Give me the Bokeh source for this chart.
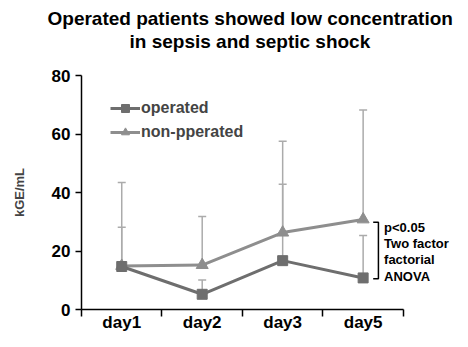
from bokeh.plotting import figure
from bokeh.layouts import column
from bokeh.models import (ColumnDataSource, Whisker, TeeHead, FixedTicker, Legend, LegendItem, Title, Range1d)
from bokeh.core.properties import value
from bokeh.embed import file_html
from bokeh.resources import INLINE

days = ["day1", "day2", "day3", "day5"]
xpos = [1, 2, 3, 4]
operated = [14.7, 5.2, 16.7, 10.8]
operated_err = [28.1, 10.1, 42.8, 25.3]
nonoperated = [14.9, 15.2, 26.3, 30.8]
nonoperated_err = [43.4, 31.8, 57.5, 68.2]
yticks = [0, 20, 40, 60, 80]
title_lines = ["Operated patients showed low concentration", "in sepsis and septic shock"]
title_offsets = [-34, 48]
stat_lines = ["p<0.05", "Two factor", "factorial", "ANOVA"]

FONT = "Liberation Sans"
C_OP = "#6e6e6e"
C_NON = "#8e8e8e"
C_ERR = "#ababab"
LEFT = 81

# ---- title strip ----
t = figure(width=460, height=55, output_backend="svg", toolbar_location=None,
           x_axis_type=None, y_axis_type=None,
           min_border_left=LEFT, min_border_right=0, min_border_top=51, min_border_bottom=0,
           x_range=Range1d(0, 1), y_range=Range1d(0, 1))
t.outline_line_color = None
t.grid.visible = False
for line, off in reversed(list(zip(title_lines, title_offsets))):
    t.add_layout(Title(text=line, align="left", offset=off, standoff=0,
                       text_font=FONT, text_font_size="19px", text_font_style="bold",
                       text_color="black"), "above")

# ---- main chart ----
p = figure(width=460, height=284, output_backend="svg", toolbar_location=None,
           x_range=Range1d(0.5, 5.21), y_range=Range1d(0, 80),
           min_border_left=LEFT, min_border_right=0, min_border_top=20, min_border_bottom=30)
p.outline_line_color = None
p.grid.visible = False
p.background_fill_color = "white"

src_op = ColumnDataSource(dict(x=xpos, y=operated, up=operated_err))
src_non = ColumnDataSource(dict(x=xpos, y=nonoperated, up=nonoperated_err))

for src in (src_non, src_op):
    w = Whisker(source=src, base="x", lower="y", upper="up", dimension="height",
                line_color=C_ERR, line_width=1.5, lower_head=None,
                upper_head=TeeHead(size=8, line_color=C_ERR, line_width=1.5), level="underlay")
    p.add_layout(w)

l_non = p.line("x", "y", source=src_non, line_color=C_NON, line_width=3)
m_non = p.scatter("x", "y", source=src_non, marker="triangle", size=12, fill_color=C_NON, line_color=C_NON)
l_op = p.line("x", "y", source=src_op, line_color=C_OP, line_width=3)
m_op = p.scatter("x", "y", source=src_op, marker="square", size=10, fill_color=C_OP, line_color=C_OP)

# bracket for significance
bx = xpos[-1] + 0.19
bxl = xpos[-1] + 0.125
top = nonoperated[-1] - 1.0
bot = operated[-1] - 0.3
p.line([bxl, bx, bx, bxl], [top, top, bot, bot], line_color="black", line_width=1.5)

ys = [top - 1.7 - i * 5.55 for i in range(len(stat_lines))]
p.text(x=[bx + 0.07] * len(stat_lines), y=ys, text=stat_lines, text_font=value(FONT),
       text_font_size="13px", text_font_style="bold", text_baseline="middle", text_align="left",
       text_color="black")

legend = Legend(items=[LegendItem(label="operated", renderers=[l_op, m_op]),
                       LegendItem(label="non-pperated", renderers=[l_non, m_non])],
                location=(29, 167), orientation="vertical", background_fill_alpha=0,
                border_line_color=None, padding=0, spacing=4, glyph_width=30, glyph_height=20,
                label_standoff=1, label_text_font=FONT, label_text_font_size="16px",
                label_text_font_style="bold", margin=0)
p.add_layout(legend)

xa = p.xaxis[0]
xa.ticker = FixedTicker(ticks=xpos, minor_ticks=[0.5, 1.5, 2.5, 3.5, 4.5])
xa.major_label_overrides = {x: d for x, d in zip(xpos, days)}
xa.bounds = (0.5, 4.5)
xa.major_tick_in = 0
xa.major_tick_out = 0
xa.minor_tick_in = 0
xa.minor_tick_out = 7
xa.minor_tick_line_color = "black"
xa.minor_tick_line_width = 1.5
xa.axis_line_width = 1.5
xa.axis_line_color = "black"
xa.major_label_standoff = -4
xa.major_label_text_font = FONT
xa.major_label_text_font_size = "17px"
xa.major_label_text_font_style = "bold"
xa.major_label_text_color = "black"

ya = p.yaxis[0]
ya.ticker = FixedTicker(ticks=yticks, minor_ticks=[])
ya.axis_label = "kGE/mL"
ya.axis_label_text_font = FONT
ya.axis_label_text_font_size = "13px"
ya.axis_label_text_font_style = "bold"
ya.axis_label_standoff = 22
ya.major_tick_in = 0
ya.major_tick_out = 6
ya.major_tick_line_width = 1.5
ya.axis_line_width = 1.5
ya.major_label_standoff = 5
ya.major_label_text_font = FONT
ya.major_label_text_font_size = "17px"
ya.major_label_text_font_style = "bold"
ya.major_label_text_color = "black"

layout = column(t, p, spacing=0)
open("out.html", "w").write(file_html(layout, INLINE))
